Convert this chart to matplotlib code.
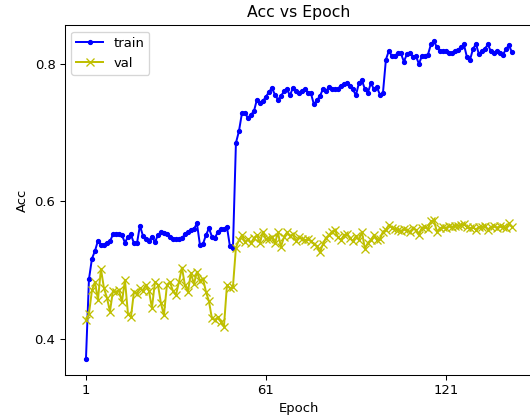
import matplotlib.pyplot as plt

train_acc = [0.371, 0.487, 0.517, 0.528, 0.543, 0.537, 0.537, 0.540, 0.542, 0.552,
             0.553, 0.553, 0.551, 0.540, 0.549, 0.552, 0.539, 0.539, 0.565, 0.550,
             0.546, 0.543, 0.549, 0.541, 0.551, 0.555, 0.554, 0.553, 0.548, 0.546,
             0.545, 0.545, 0.547, 0.552, 0.555, 0.558, 0.560, 0.568, 0.537, 0.538,
             0.551, 0.561, 0.549, 0.547, 0.556, 0.560, 0.560, 0.563, 0.535, 0.532,
             0.685, 0.702, 0.728, 0.729, 0.721, 0.726, 0.731, 0.748, 0.743, 0.746,
             0.752, 0.759, 0.765, 0.755, 0.748, 0.753, 0.760, 0.763, 0.754, 0.765,
             0.760, 0.758, 0.760, 0.763, 0.758, 0.757, 0.741, 0.747, 0.753, 0.763,
             0.760, 0.766, 0.764, 0.763, 0.764, 0.768, 0.770, 0.772, 0.768, 0.763,
             0.754, 0.772, 0.776, 0.763, 0.758, 0.772, 0.763, 0.766, 0.755, 0.757,
             0.806, 0.819, 0.811, 0.812, 0.815, 0.815, 0.803, 0.814, 0.816, 0.810,
             0.811, 0.800, 0.811, 0.811, 0.813, 0.828, 0.833, 0.824, 0.819, 0.818,
             0.818, 0.816, 0.815, 0.818, 0.820, 0.824, 0.828, 0.810, 0.805, 0.821,
             0.829, 0.814, 0.818, 0.822, 0.828, 0.818, 0.816, 0.818, 0.815, 0.813,
             0.821, 0.827, 0.817]

val_acc = [0.428, 0.437, 0.471, 0.483, 0.457, 0.502, 0.474, 0.460, 0.440, 0.470,
           0.469, 0.471, 0.454, 0.486, 0.437, 0.432, 0.469, 0.466, 0.474, 0.470,
           0.479, 0.470, 0.445, 0.483, 0.479, 0.452, 0.435, 0.479, 0.483, 0.470,
           0.464, 0.483, 0.504, 0.478, 0.469, 0.496, 0.480, 0.498, 0.485, 0.488,
           0.469, 0.455, 0.430, 0.428, 0.432, 0.425, 0.418, 0.478, 0.474, 0.476,
           0.533, 0.544, 0.551, 0.541, 0.545, 0.539, 0.547, 0.551, 0.540, 0.556,
           0.545, 0.546, 0.549, 0.539, 0.555, 0.534, 0.548, 0.555, 0.550, 0.552,
           0.543, 0.548, 0.546, 0.544, 0.545, 0.543, 0.538, 0.535, 0.526, 0.538,
           0.547, 0.551, 0.556, 0.559, 0.548, 0.544, 0.551, 0.553, 0.547, 0.542,
           0.550, 0.544, 0.556, 0.531, 0.540, 0.544, 0.551, 0.544, 0.545, 0.556,
           0.559, 0.566, 0.562, 0.560, 0.559, 0.557, 0.560, 0.558, 0.556, 0.561,
           0.559, 0.551, 0.562, 0.563, 0.560, 0.571, 0.573, 0.556, 0.561, 0.563,
           0.561, 0.565, 0.563, 0.565, 0.565, 0.566, 0.567, 0.563, 0.561, 0.563,
           0.559, 0.563, 0.563, 0.565, 0.559, 0.563, 0.565, 0.562, 0.564, 0.563,
           0.561, 0.568, 0.563]

epochs = list(range(1, len(train_acc) + 1))
xtick_pos = [1, 61, 121]

fig = plt.figure(figsize=(530 / 94.5, 417 / 94.5), dpi=94.5)
ax = fig.add_axes([0.122, 0.1007, 0.884, 0.839])

ax.plot(epochs, train_acc, "b.-", label="train")
ax.plot(epochs, val_acc, "yx-", label="val")
ax.set_xticks(xtick_pos)
ax.set_yticks([0.4, 0.6, 0.8])
ax.set_xlabel("Epoch")
ax.set_ylabel("Acc")
ax.set_title("Acc vs Epoch")
ax.legend(loc="upper left")

fig.savefig("out.png")
